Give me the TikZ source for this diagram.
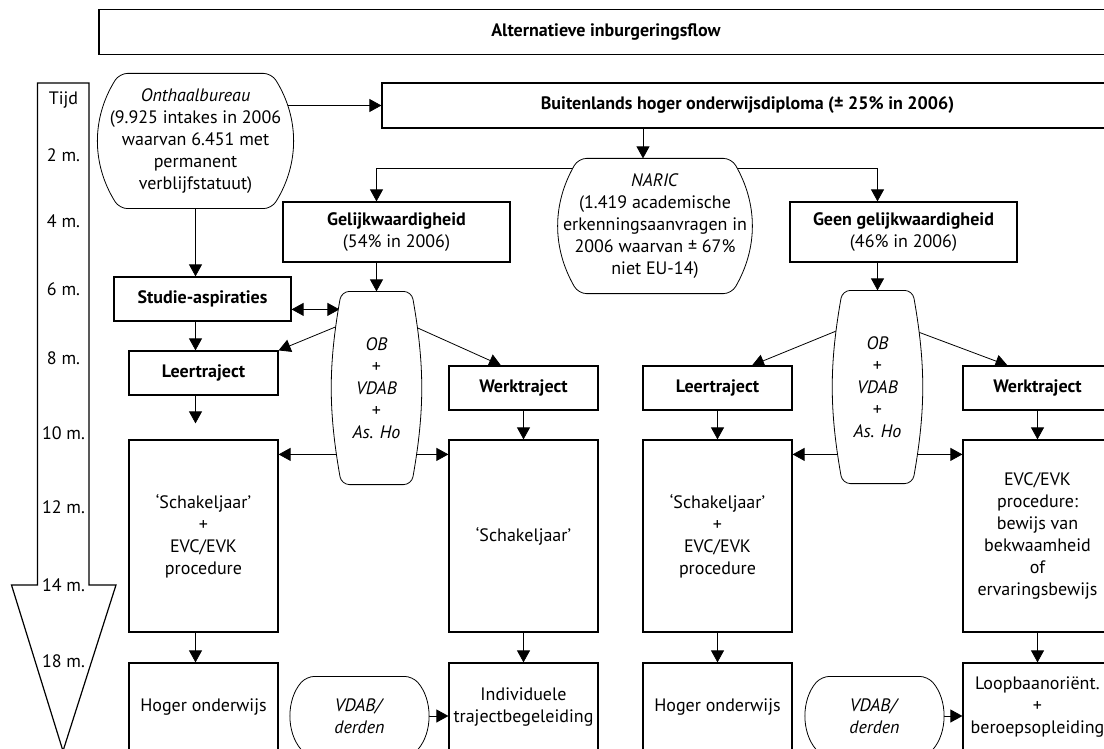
\documentclass[tikz,border=0pt]{standalone}
\usepackage{fontspec}
\setmainfont{PT Sans}
\usetikzlibrary{positioning, calc, arrows.meta, backgrounds}

% outline with bulging sides round a node: name, bulge, bend angle
\newcommand{\bolrand}[3]{%
    \draw[fill=white, rounded corners=4pt] (#1.north) -- ($(#1.north east)+(-#2,0)$)
        to[bend left=#3] ($(#1.south east)+(-#2,0)$) -- ($(#1.south west)+(#2,0)$)
        to[bend left=#3] ($(#1.north west)+(#2,0)$) -- cycle;}

\begin{document}
\begin{tikzpicture}[>={Triangle[length=6pt,width=6.5pt]}, x=0.5pt, y=-0.5pt,
    font=\fontsize{9}{11}\selectfont, line width=0.6pt,
    box/.style={draw, rectangle, fill=white, inner sep=0pt, align=center},
    bolbox/.style={rectangle, inner sep=0pt, align=center},
    stapbox/.style={box, minimum width=74.5pt, minimum height=22pt},
    tijdlabel/.style={inner sep=0pt}]
    % Picture frame, same size as the page
    \useasboundingbox (0,0) rectangle (1104,749);

    % Time arrow on the left
    \draw (37.5,83) -- (89,83) -- (89,585) -- (116,585) -- (63,751) -- (11.5,585) -- (37.5,585) -- cycle;
    \node[tijdlabel] (t0) at (63.5,100) {Tijd};
    \node[tijdlabel] (t2) at (63.5,155) {2 m.};
    \node[tijdlabel] (t4) at (63.5,221) {4 m.};
    \node[tijdlabel] (t6) at (63.5,289) {6 m.};
    \node[tijdlabel] (t8) at (63.5,358) {8 m.};
    \node[tijdlabel] (t10) at (63.5,433) {10 m.};
    \node[tijdlabel] (t12) at (63.5,507) {12 m.};
    \node[tijdlabel] (t14) at (63.5,585) {14 m.};
    \node[tijdlabel] (t18) at (63.5,661) {18 m.};

    % Title and top row
    \node[box, minimum width=507pt, minimum height=22.25pt] (title) at (606,32) {\textbf{Alternatieve inburgeringsflow}};
    \node[bolbox, minimum width=96.5pt, minimum height=67pt] (onthaal) at (195.5,141)
        {\textit{Onthaalbureau}\\(9.925 intakes in 2006\\waarvan 6.451 met\\permanent\\verblijfstatuut)};
    \node[box, minimum width=365.5pt, minimum height=22.5pt] (buit) at (747.5,105.5)
        {\textbf{Buitenlands hoger onderwijsdiploma (± 25\% in 2006)}};
    \node[bolbox, minimum width=95pt, minimum height=67pt] (naric) at (655,226)
        {\textit{NARIC}\\(1.419 academische\\erkenningsaanvragen in\\2006 waarvan ± 67\%\\niet EU-14)};
    \node[box, minimum width=113.5pt, minimum height=30pt] (gelijk) at (396.5,232) {\textbf{Gelijkwaardigheid}\\(54\% in 2006)};
    \node[box, minimum width=113.5pt, minimum height=30pt] (geen) at (903.5,232) {\textbf{Geen gelijkwaardigheid}\\(46\% in 2006)};

    % Middle row
    \node[box, minimum width=88.5pt, minimum height=22pt] (stud) at (202.5,299) {\textbf{Studie-aspiraties}};
    \node[bolbox, minimum width=44.5pt, minimum height=96pt] (ob1) at (376.5,388)
        {\textit{OB}\\+\\\textit{VDAB}\\+\\\textit{As. Ho}};
    \node[bolbox, minimum width=44.5pt, minimum height=96pt] (ob2) at (877.5,387)
        {\textit{OB}\\+\\\textit{VDAB}\\+\\\textit{As. Ho}};
    \node[stapbox] (leer1) at (203.5,373) {\textbf{Leertraject}};
    \node[stapbox] (werk1) at (523.5,388) {\textbf{Werktraject}};
    \node[stapbox] (leer2) at (717.5,388) {\textbf{Leertraject}};
    \node[stapbox] (werk2) at (1037.5,388) {\textbf{Werktraject}};

    % Long boxes
    \node[box, minimum width=74.5pt, minimum height=96pt] (schak1) at (203.5,536) {‘Schakeljaar’\\+\\EVC/EVK\\procedure};
    \node[box, minimum width=74.5pt, minimum height=96pt] (schak2) at (523.5,536) {‘Schakeljaar’};
    \node[box, minimum width=74.5pt, minimum height=96pt] (schak3) at (717.5,536) {‘Schakeljaar’\\+\\EVC/EVK\\procedure};
    \node[box, minimum width=74.5pt, minimum height=96pt] (evc) at (1037.5,536)
        {EVC/EVK\\procedure:\\bewijs van\\bekwaamheid\\of\\ervaringsbewijs};

    % Bottom row
    \node[box, minimum width=74.5pt, minimum height=44pt] (hoger1) at (203.5,707) {Hoger onderwijs};
    \node[bolbox, minimum width=67.5pt, minimum height=39pt] (vdab1) at (359.5,716) {\textit{VDAB/}\\\textit{derden}};
    \node[box, minimum width=74.5pt, minimum height=44pt] (indiv) at (523.5,707) {Individuele\\trajectbegeleiding};
    \node[box, minimum width=74.5pt, minimum height=44pt] (hoger2) at (717.5,707) {Hoger onderwijs};
    \node[bolbox, minimum width=67.5pt, minimum height=39pt] (vdab2) at (874.5,716) {\textit{VDAB/}\\\textit{derden}};
    \node[box, minimum width=74.5pt, minimum height=44pt] (loop) at (1037.5,707) {Loopbaanoriënt.\\+\\beroepsopleiding};

    % Connectors, under the boxes
    \begin{scope}[on background layer]
        \coordinate (split) at (643,168);
        \draw[->] (onthaal.center |- buit.west) -- (buit.west);
        \draw[->] (split |- buit.south) -- (split |- naric.north);
        \draw[->] (split) -| (gelijk.north -| ob1.north);
        \draw[->] (split) -| (geen.north -| ob2.north);
        \draw[->] (gelijk.south -| ob1.north) -- (ob1.north);
        \draw[->] (geen.south -| ob2.north) -- (ob2.north);

        % left column
        \draw[->] (onthaal.south) -- (onthaal.south |- stud.north);
        \draw[->] (stud.south -| onthaal.south) -- (leer1.north -| onthaal.south);
        \draw[->, shorten >=8pt] (leer1.south -| onthaal.south) -- (schak1.north -| onthaal.south);
        \draw[->] (schak1.south -| onthaal.south) -- (hoger1.north -| onthaal.south);
        \draw[<->] (stud.east |- ob1.north) ++(0,18) -- ($(ob1.north west)+(8,18)$);
        \draw[->] ($(ob1.north west)+(20,29)$) -- (leer1.north east);
        \draw[->] ($(ob1.north east)+(-23,28)$) -- ($(werk1.north west)!0.35!(werk1.north east)$);
        \draw[<->] ($(schak1.north east)+(0,15)$) -- ($(schak2.north west)+(0,15)$);
        \draw[->] (werk1.south) -- (schak2.north);
        \draw[->] (schak2.south) -- (indiv.north);
        \draw[->] (vdab1.east) -- (indiv.west |- vdab1.east);

        % right column
        \draw[->] ($(ob2.north west)+(20,34)$) -- ($(leer2.north west)!0.73!(leer2.north east)$);
        \draw[->] ($(ob2.north east)+(-22,35)$) -- ($(werk2.north west)!0.3!(werk2.north east)$);
        \draw[<->] ($(schak3.north east)+(0,15)$) -- ($(evc.north west)+(0,15)$);
        \draw[->] (leer2.south) -- (schak3.north);
        \draw[->] (schak3.south) -- (hoger2.north);
        \draw[->] (werk2.south) -- (evc.north);
        \draw[->] (evc.south) -- (loop.north);
        \draw[->] (vdab2.east) -- (loop.west |- vdab2.east);

        % outlines of the rounded boxes, over the connectors
        \bolrand{onthaal}{21}{32}
        \bolrand{naric}{19}{30}
        \bolrand{ob1}{10}{10}
        \bolrand{ob2}{10}{10}
        \bolrand{vdab1}{15}{41}
        \bolrand{vdab2}{15}{41}
    \end{scope}
\end{tikzpicture}
\end{document}
